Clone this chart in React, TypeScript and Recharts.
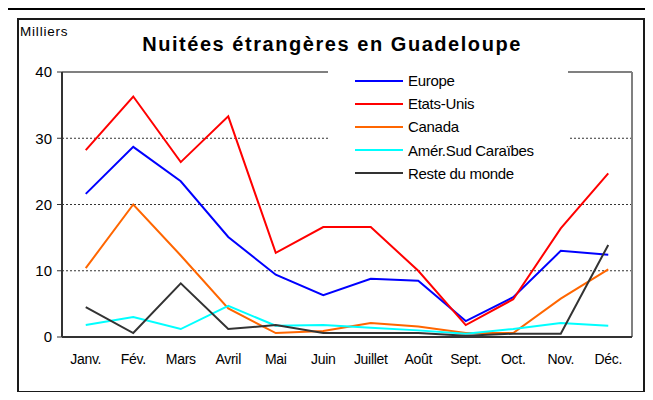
import React from 'react';
import {
  LineChart,
  Line,
  XAxis,
  YAxis,
  CartesianGrid,
  ReferenceLine,
  Legend,
} from 'recharts';

const months = ['Janv.', 'Fév.', 'Mars', 'Avril', 'Mai', 'Juin', 'Juillet', 'Août', 'Sept.', 'Oct.', 'Nov.', 'Déc.'];
const europe = [21.6, 28.7, 23.5, 15.1, 9.4, 6.3, 8.8, 8.5, 2.4, 6.0, 13.0, 12.4];
const etatsUnis = [28.2, 36.3, 26.4, 33.3, 12.7, 16.6, 16.6, 10.0, 1.8, 5.7, 16.4, 24.7];
const canada = [10.4, 20.0, 12.3, 4.3, 0.6, 0.9, 2.1, 1.6, 0.6, 0.6, 5.8, 10.2];
const amerSud = [1.8, 3.0, 1.2, 4.7, 1.7, 1.8, 1.4, 1.0, 0.5, 1.2, 2.1, 1.7];
const reste = [4.5, 0.6, 8.1, 1.2, 1.8, 0.6, 0.6, 0.6, 0.2, 0.5, 0.5, 13.9];
const yTicks = [0, 10, 20, 30, 40];
const edgeTicks = [0, 1, 2, 3, 4, 5, 6, 7, 8, 9, 10, 11, 12];
const yMax = 40;
const xMax = 12;

const seriesDefs = [
  { key: 'europe', name: 'Europe', color: '#0000FF', values: europe },
  { key: 'etatsUnis', name: 'Etats-Unis', color: '#FF0000', values: etatsUnis },
  { key: 'canada', name: 'Canada', color: '#FF6600', values: canada },
  { key: 'amerSud', name: 'Amér.Sud Caraïbes', color: '#00FFFF', values: amerSud },
  { key: 'reste', name: 'Reste du monde', color: '#333333', values: reste },
];

// pos = centre of each month's band on a 0..12 scale (month index + half a band)
const data = months.map((m, i) => {
  const row: Record<string, any> = { month: m, pos: i + 0.5 };
  seriesDefs.forEach((s) => {
    row[s.key] = s.values[i];
  });
  return row;
});

const FONT = '"Liberation Sans", Arial, sans-serif';

const LegendBox = () => (
  <div
    style={{
      background: '#fff',
      width: 240,
      height: 120,
      paddingTop: 5,
      paddingLeft: 27,
      boxSizing: 'border-box',
      fontFamily: FONT,
      fontSize: 15,
      color: '#000',
    }}
  >
    {seriesDefs.map((s) => (
      <div key={s.key} style={{ display: 'flex', alignItems: 'center', height: 23.2 }}>
        <div style={{ width: 48, height: 2, background: s.color, marginRight: 5 }} />
        <span style={{ letterSpacing: -0.3 }}>{s.name}</span>
      </div>
    ))}
  </div>
);

export default function App() {
  return (
    <div
      style={{
        position: 'relative',
        margin: -8,
        width: 653,
        height: 400,
        overflow: 'hidden',
        background: '#fff',
      }}
    >
      <div
        style={{
          position: 'absolute',
          left: 5,
          top: 7,
          width: 700,
          height: 500,
          border: '3px solid #000',
        }}
      />
      <div
        style={{
          position: 'absolute',
          left: 17,
          top: 18,
          width: 628,
          height: 375,
          border: '2px solid #1a1a1a',
          boxSizing: 'border-box',
        }}
      />
      <div style={{ position: 'absolute', left: 0, top: 0 }}>
        <LineChart
          width={653}
          height={400}
          data={data}
          margin={{ top: 72, right: 21, bottom: 33, left: 22 }}
        >
          <CartesianGrid vertical={false} stroke="#333" strokeDasharray="2 2" xAxisId="axisA" />
          <ReferenceLine y={yMax} xAxisId="axisA" stroke="#808080" strokeWidth={2} />
          <ReferenceLine x={xMax} xAxisId="axisA" stroke="#808080" strokeWidth={2} />
          <XAxis
            xAxisId="axisB"
            dataKey="month"
            height={29}
            padding={{ left: 23.75, right: 23.75 }}
            axisLine={false}
            tickLine={false}
            tickSize={0}
            tickMargin={16}
            interval={0}
            tick={{ fill: '#000', fontSize: 14, fontFamily: FONT, letterSpacing: -0.3 }}
          />
          <XAxis
            xAxisId="axisA"
            dataKey="pos"
            type="number"
            domain={[0, xMax]}
            ticks={edgeTicks}
            tick={false}
            tickSize={5}
            height={1}
            axisLine={{ stroke: '#333', strokeWidth: 2 }}
            tickLine={{ stroke: '#333', strokeWidth: 1 }}
          />
          <YAxis
            width={40}
            domain={[0, yMax]}
            ticks={yTicks}
            tickSize={5}
            tickMargin={5}
            axisLine={{ stroke: '#333', strokeWidth: 2 }}
            tickLine={{ stroke: '#333', strokeWidth: 1 }}
            tick={{ fill: '#000', fontSize: 15, fontFamily: FONT }}
          />
          <Legend
            layout="vertical"
            align="center"
            verticalAlign="middle"
            content={() => <LegendBox />}
            wrapperStyle={{ position: 'absolute', left: 328, top: 64, width: 240, height: 120 }}
          />
          {/* invisible carrier so the edge axis owns data */}
          <Line
            xAxisId="axisA"
            dataKey="europe"
            stroke="none"
            dot={false}
            activeDot={false}
            legendType="none"
            isAnimationActive={false}
          />
          {seriesDefs.map((s) => (
            <Line
              key={s.key}
              xAxisId="axisB"
              type="linear"
              dataKey={s.key}
              name={s.name}
              stroke={s.color}
              strokeWidth={2}
              dot={false}
              activeDot={false}
              isAnimationActive={false}
            />
          ))}
        </LineChart>
      </div>
      <div
        style={{
          position: 'absolute',
          left: 20,
          top: 24,
          fontFamily: FONT,
          fontSize: 13.5,
          letterSpacing: 0.8,
          color: '#000',
        }}
      >
        Milliers
      </div>
      <div
        style={{
          position: 'absolute',
          left: 0,
          width: 664,
          top: 33,
          textAlign: 'center',
          fontFamily: FONT,
          fontSize: 20,
          fontWeight: 'bold',
          letterSpacing: 1.55,
          color: '#000',
        }}
      >
        Nuitées étrangères en Guadeloupe
      </div>
    </div>
  );
}
